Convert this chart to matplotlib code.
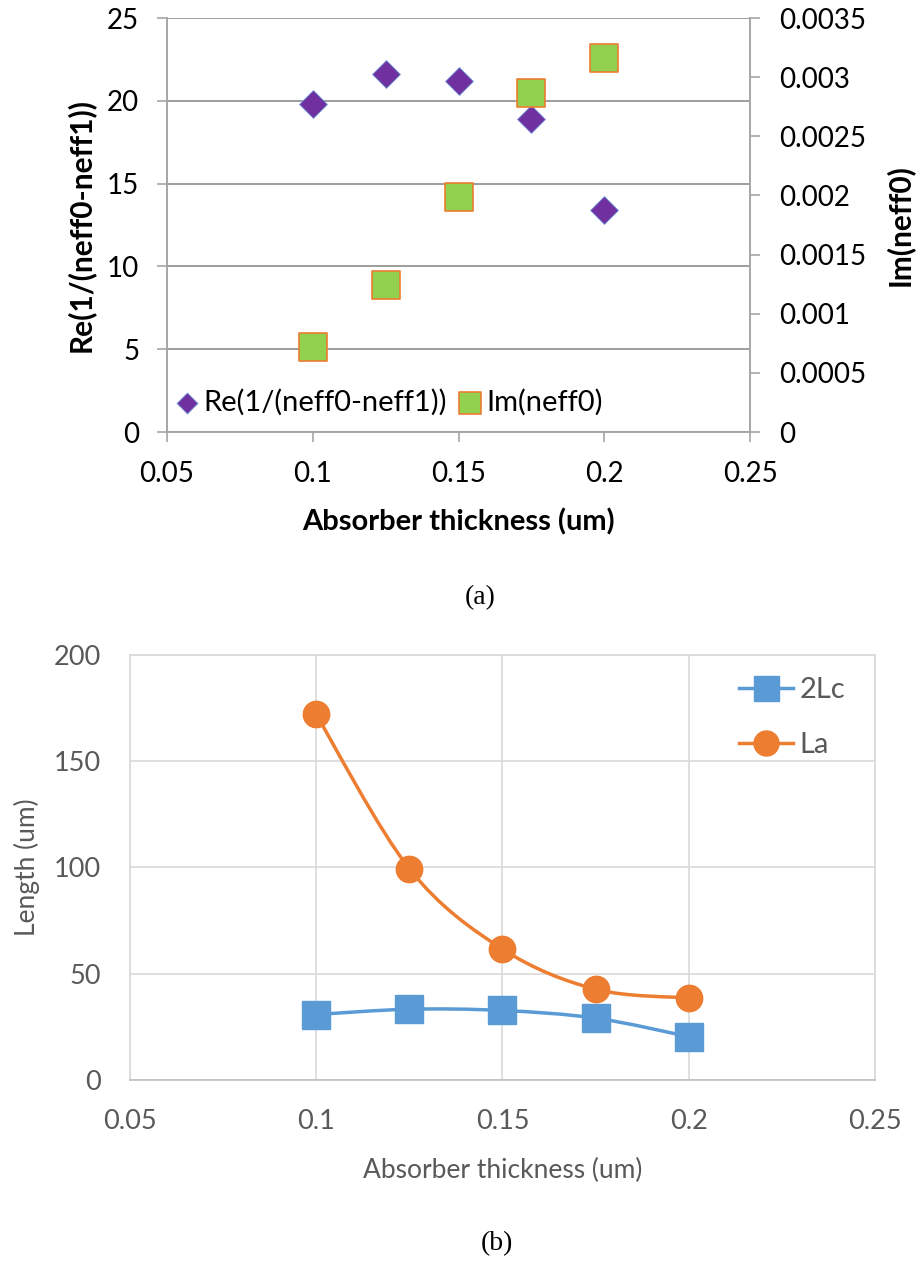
import matplotlib.pyplot as plt
from matplotlib.path import Path
from matplotlib.patches import PathPatch
from matplotlib.ticker import FuncFormatter

# data
thickness = [0.1, 0.125, 0.15, 0.175, 0.2]
re_inv_dn = [19.8, 21.6, 21.2, 18.9, 13.4]
im_neff0 = [0.00072, 0.00124, 0.00199, 0.00287, 0.00316]
len_2lc = [30.8, 33.3, 32.7, 29.1, 20.4]
len_la = [172, 99.4, 61.6, 42.7, 38.6]

plt.rcParams['font.family'] = ['Lato', 'DejaVu Sans']


def smooth_path(xs, ys):
    # Excel-like smoothed line: cubic bezier through the points
    pts = list(zip(xs, ys))
    verts = [pts[0]]
    codes = [Path.MOVETO]
    n = len(pts)
    for i in range(n - 1):
        p0 = pts[i - 1] if i > 0 else pts[i]
        p1 = pts[i]
        p2 = pts[i + 1]
        p3 = pts[i + 2] if i + 2 < n else pts[i + 1]
        c1 = (p1[0] + (p2[0] - p0[0]) / 6, p1[1] + (p2[1] - p0[1]) / 6)
        c2 = (p2[0] - (p3[0] - p1[0]) / 6, p2[1] - (p3[1] - p1[1]) / 6)
        verts += [c1, c2, p2]
        codes += [Path.CURVE4] * 3
    return Path(verts, codes)


fig = plt.figure(figsize=(9.16, 12.64), dpi=100)

# ---------- panel (a) ----------
ax = fig.add_axes([0.1823, 0.6582, 0.6365, 0.3275])
ax2 = ax.twinx()
gray = '#a6a6a6'
for a in (ax, ax2):
    for s in a.spines.values():
        s.set_color(gray)
        s.set_linewidth(1.2)
    a.spines['top'].set_visible(False)
ax.set_xlim(0.05, 0.25)
ax.set_ylim(0, 25)
ax2.set_ylim(0, 0.0035)
ax.set_yticks([0, 5, 10, 15, 20, 25])
ax.set_xticks([0.05, 0.1, 0.15, 0.2, 0.25])
ax2.set_yticks([0, 0.0005, 0.001, 0.0015, 0.002, 0.0025, 0.003, 0.0035])
ax.xaxis.set_major_formatter(FuncFormatter(lambda v, p: '%g' % round(v, 4)))
ax2.yaxis.set_major_formatter(FuncFormatter(lambda v, p: '%g' % round(v, 6)))
ax.grid(axis='y', color='#8c8c8c', linewidth=1.2)
ax.set_axisbelow(True)
for a in (ax, ax2):
    a.tick_params(colors=gray, labelcolor='black', labelsize=20, length=7, width=1.2)
ax.tick_params(axis='y', pad=13)
ax.tick_params(axis='x', pad=14)
ax2.tick_params(axis='y', pad=14)

h1 = ax.scatter(thickness, re_inv_dn, marker='D', s=200, color='#7030a0',
                edgecolors='#6b8fd6', linewidths=0.6, zorder=3,
                label='Re(1/(neff0-neff1))')
h2 = ax2.scatter(thickness, im_neff0, marker='s', s=420, color='#92d050',
                 edgecolors='#ed7d31', linewidths=1.2, zorder=3,
                 label='Im(neff0)')
ax.set_xlabel('Absorber thickness (um)', fontsize=21, fontweight='bold', labelpad=15)
ax.set_ylabel('Re(1/(neff0-neff1))', fontsize=21.5, fontweight='bold', labelpad=9)
ax2.set_ylabel('Im(neff0)', fontsize=21.5, fontweight='bold', labelpad=13)
ax.legend([h1, h2], [h1.get_label(), h2.get_label()], ncol=2, frameon=False,
          loc='lower left', bbox_to_anchor=(-0.035, -0.025), fontsize=21,
          handletextpad=0.05, columnspacing=0.3, handlelength=1.0,
          markerscale=0.75)

fig.text(0.524, 0.527, '(a)', ha='center', va='center', fontsize=20,
         family='Liberation Serif')

# ---------- panel (b) ----------
bx = fig.add_axes([0.1419, 0.1456, 0.8133, 0.3362])
tg = '#595959'
bx.set_xlim(0.05, 0.25)
bx.set_ylim(0, 200)
bx.set_xticks([0.05, 0.1, 0.15, 0.2, 0.25])
bx.set_yticks([0, 50, 100, 150, 200])
bx.xaxis.set_major_formatter(FuncFormatter(lambda v, p: '%g' % round(v, 4)))
bx.grid(True, color='#d9d9d9', linewidth=1.2)
bx.set_axisbelow(True)
for s in bx.spines.values():
    s.set_color('#d9d9d9')
    s.set_linewidth(1.2)
bx.spines['bottom'].set_color('#bfbfbf')
bx.tick_params(length=0, labelsize=19.5, labelcolor=tg)
bx.tick_params(axis='x', pad=21)
bx.tick_params(axis='y', pad=21)

blue = '#5b9bd5'
orange = '#ed7d31'
bx.add_patch(PathPatch(smooth_path(thickness, len_2lc), fill=False,
                       edgecolor=blue, linewidth=2.5, zorder=2))
bx.add_patch(PathPatch(smooth_path(thickness, len_la), fill=False,
                       edgecolor=orange, linewidth=2.5, zorder=2))
bx.plot(thickness, len_2lc, linestyle='none', marker='s', markersize=20,
        color=blue, zorder=3, label='2Lc')
bx.plot(thickness, len_la, linestyle='none', marker='o', markersize=19,
        color=orange, zorder=3, label='La')
# legend proxies showing line + marker
p1, = bx.plot([], [], '-s', color=blue, lw=2.5, markersize=18)
p2, = bx.plot([], [], '-o', color=orange, lw=2.5, markersize=18)
bx.legend([p1, p2], ['2Lc', 'La'], loc='upper right', frameon=False,
          fontsize=21, labelcolor=tg, handlelength=1.85, handletextpad=0.2,
          labelspacing=1.0, bbox_to_anchor=(0.995, 1.01))
bx.set_xlabel('Absorber thickness (um)', fontsize=19, color=tg, labelpad=17)
bx.set_ylabel('Length (um)', fontsize=19, color=tg, labelpad=10)

fig.text(0.543, 0.016, '(b)', ha='center', va='center', fontsize=20,
         family='Liberation Serif')

fig.savefig('out.png', dpi=100)
